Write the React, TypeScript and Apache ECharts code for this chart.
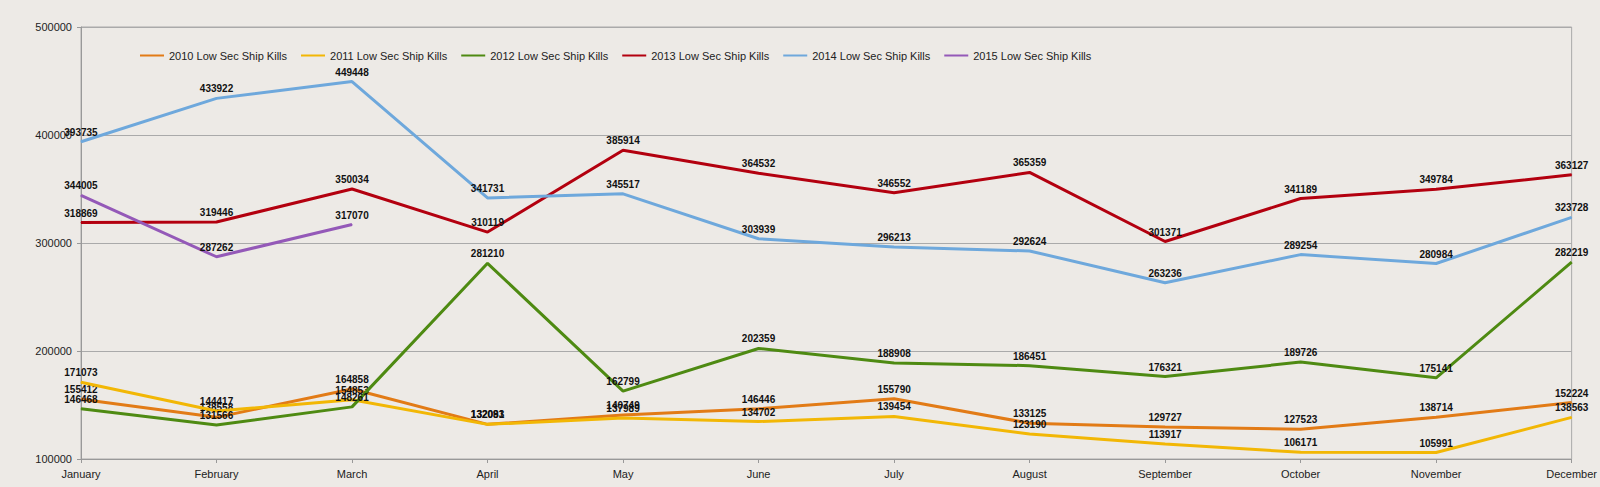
import React, { useEffect, useRef } from "react";
import * as echarts from "echarts";

const months = ["January", "February", "March", "April", "May", "June", "July", "August", "September", "October", "November", "December"];
const yTicks = [100000, 200000, 300000, 400000, 500000];

const kills2010 = [155412, 138558, 164858, 132093, 140749, 146446, 155790, 133125, 129727, 127523, 138714, 152224];
const kills2011 = [171073, 144417, 154853, 132081, 137989, 134702, 139454, 123190, 113917, 106171, 105991, 138563];
const kills2012 = [146468, 131566, 148261, 281210, 162799, 202359, 188908, 186451, 176321, 189726, 175141, 282219];
const kills2013 = [318869, 319446, 350034, 310119, 385914, 364532, 346552, 365359, 301371, 341189, 349784, 363127];
const kills2014 = [393735, 433922, 449448, 341731, 345517, 303939, 296213, 292624, 263236, 289254, 280984, 323728];
const kills2015 = [344005, 287262, 317070];

const seriesNames = [
  "2010 Low Sec Ship Kills",
  "2011 Low Sec Ship Kills",
  "2012 Low Sec Ship Kills",
  "2013 Low Sec Ship Kills",
  "2014 Low Sec Ship Kills",
  "2015 Low Sec Ship Kills",
];
const seriesData = [kills2010, kills2011, kills2012, kills2013, kills2014, kills2015];
const seriesColors = ["#e27b16", "#f2b705", "#4e8a12", "#b3000f", "#6ea8dc", "#9459b8"];

const FONT = "'Liberation Sans', Arial, sans-serif";
const NARROW = "'Liberation Sans Narrow', 'Liberation Sans', Arial, sans-serif";

export default function App() {
  const ref = useRef<HTMLDivElement>(null);
  useEffect(() => {
    document.body.style.margin = "0";
    const chart = echarts.init(ref.current!, null, { renderer: "svg" });
    chart.setOption({
      animation: false,
      backgroundColor: "#edeae6",
      textStyle: { fontFamily: FONT },
      grid: {
        left: 81,
        right: 27,
        top: 27,
        bottom: 28,
        show: true,
        borderColor: "#aaaaaa",
        borderWidth: 1,
        backgroundColor: "transparent",
      },
      legend: {
        left: 135,
        top: 45,
        itemWidth: 24,
        itemHeight: 2,
        itemGap: 14,
        icon: "rect",
        textStyle: { fontSize: 11, color: "#222", fontFamily: NARROW },
        data: seriesNames,
      },
      xAxis: {
        type: "category",
        data: months,
        boundaryGap: false,
        axisLine: { lineStyle: { color: "#999" } },
        axisTick: { show: true, length: 4, lineStyle: { color: "#999" } },
        axisLabel: { fontSize: 11, color: "#222", margin: 9, fontFamily: FONT },
        splitLine: { show: false },
      },
      yAxis: {
        type: "value",
        min: yTicks[0],
        max: yTicks[yTicks.length - 1],
        interval: yTicks[1] - yTicks[0],
        axisLine: { show: true, lineStyle: { color: "#999" } },
        axisTick: { show: true, length: 4, lineStyle: { color: "#999" } },
        axisLabel: {
          fontSize: 11,
          color: "#222",
          margin: 9,
          fontFamily: FONT,
          formatter: (v: number) => String(v),
        },
        splitLine: { show: true, lineStyle: { color: "#aaaaaa", width: 1 } },
      },
      series: seriesNames.map((name, i) => ({
        name,
        type: "line",
        data: seriesData[i],
        color: seriesColors[i],
        lineStyle: { width: 3, color: seriesColors[i] },
        symbol: "circle",
        symbolSize: 1,
        showSymbol: true,
        itemStyle: { color: seriesColors[i] },
        z: 2 + i,
        label: {
          show: true,
          position: "top",
          distance: 4,
          fontSize: 10,
          fontWeight: "bold",
          color: "#111",
          fontFamily: NARROW,
        },
        labelLayout: { hideOverlap: false },
      })),
    });
    return () => chart.dispose();
  }, []);
  return <div ref={ref} style={{ width: 1600, height: 487 }} />;
}
